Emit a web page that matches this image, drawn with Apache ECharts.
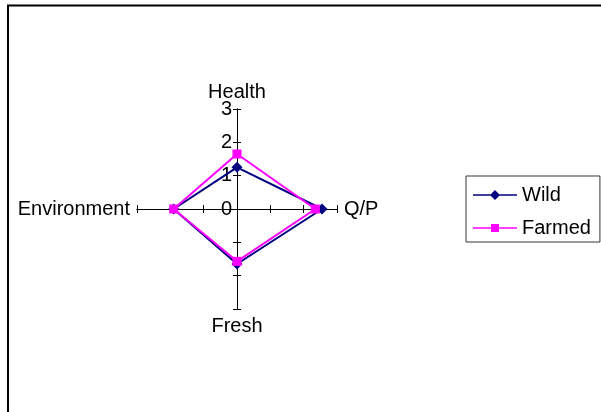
<!DOCTYPE html>
<html>
<head>
<meta charset="utf-8">
<script src="https://cdn.jsdelivr.net/npm/echarts@6/dist/echarts.min.js"></script>
<style>
  html, body { margin: 0; padding: 0; background: #fff; }
  #chart { width: 601px; height: 412px; }
</style>
</head>
<body>
<div id="chart"></div>
<script>
// axes in Excel order (clockwise from the top)
const axisNames = ['Health', 'Q/P', 'Fresh', 'Environment'];
const wild = [1.25, 2.55, 1.65, 1.9];
const farmed = [1.65, 2.35, 1.57, 1.9];
const tickLabels = [0, 1, 2, 3];
const seriesNames = ['Wild', 'Farmed'];

// echarts radar goes counter-clockwise, so reorder the axes
const order = [0, 3, 2, 1];
const pick = arr => order.map(i => arr[i]);

const FONT = 'Liberation Sans';
const FS = 20;
const CX = 237, CY = 209, R = 100;

const chart = echarts.init(document.getElementById('chart'));

const radarBase = {
  center: [CX, CY],
  radius: R,
  startAngle: 90,
  splitNumber: 3,
  shape: 'polygon',
  indicator: pick(axisNames).map(name => ({ name, min: 0, max: 3 })),
  splitLine: { show: false },
  splitArea: { show: false },
  axisLine: { lineStyle: { color: '#000', width: 1 } },
  axisLabel: { show: false }
};

chart.setOption({
  backgroundColor: '#fff',
  animation: false,
  textStyle: { fontFamily: FONT },
  graphic: [{
    type: 'rect',
    shape: { x: 8, y: 5.5, width: 700, height: 500 },
    style: { fill: 'none', stroke: '#000', lineWidth: 2 }
  }],
  radar: [
    {
      ...radarBase,
      nameGap: 7,
      axisName: { color: '#000', fontSize: FS, fontFamily: FONT },
      axisTick: { show: true, length: 4, lineStyle: { color: '#000' } }
    },
    {
      ...radarBase,
      axisName: { show: false },
      axisTick: { show: true, length: -4, lineStyle: { color: '#000' } }
    }
  ],
  // hidden grid only to place the 0..3 labels along the Health axis
  grid: { left: CX, top: CY - R, width: 1, height: R },
  xAxis: { type: 'value', show: false },
  yAxis: {
    type: 'value',
    min: tickLabels[0],
    max: tickLabels[tickLabels.length - 1],
    interval: 1,
    axisLine: { show: false },
    axisTick: { show: false },
    splitLine: { show: false },
    axisLabel: { color: '#000', fontSize: FS, fontFamily: FONT, margin: 5 }
  },
  legend: {
    orient: 'vertical',
    left: 466,
    top: 176,
    padding: [9, 9, 4, 7],
    itemWidth: 44,
    itemHeight: 10,
    itemGap: 13,
    borderColor: '#333',
    borderWidth: 1,
    textStyle: { color: '#000', fontSize: FS, fontFamily: FONT },
    data: [
      { name: seriesNames[0], icon: 'path://M0,4.2H44V5.8H0Z M22,0L27,5L22,10L17,5Z' },
      { name: seriesNames[1], icon: 'path://M0,4.2H44V5.8H0Z M18,1H26V9H18Z' }
    ]
  },
  series: [
    {
      type: 'radar',
      radarIndex: 0,
      z: 3,
      data: [{
        name: seriesNames[0],
        value: pick(wild),
        symbol: 'diamond',
        symbolSize: 11,
        itemStyle: { color: '#000080' },
        lineStyle: { color: '#000080', width: 2 }
      }]
    },
    {
      type: 'radar',
      radarIndex: 0,
      z: 4,
      data: [{
        name: seriesNames[1],
        value: pick(farmed),
        symbol: 'rect',
        symbolSize: 9,
        itemStyle: { color: '#ff00ff' },
        lineStyle: { color: '#ff00ff', width: 2 }
      }]
    }
  ]
});
</script>
</body>
</html>
